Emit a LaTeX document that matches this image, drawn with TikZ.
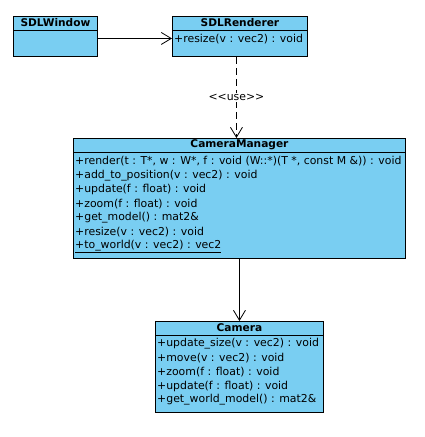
\documentclass[tikz,border=0pt]{standalone}
\usepackage{fontspec}
\setmainfont{DejaVu Sans}
\usetikzlibrary{arrows.meta}
\definecolor{umlblue}{RGB}{121,206,242}
\begin{document}
\begin{tikzpicture}[x=1pt,y=-1pt,
  classbox/.style={draw=black, fill=umlblue, line width=0.9pt, inner sep=0pt, anchor=north west},
  classtitle/.style={font=\fontsize{10.6}{12}\selectfont\bfseries, inner sep=0pt},
  member/.style={font=\fontsize{10.9}{12}\selectfont, inner sep=0pt, anchor=west},
  sep/.style={line width=0.9pt},
  assoc/.style={line width=0.8pt, -{Straight Barb[length=10pt,width=12pt]}},
  dep/.style={line width=0.8pt, dash pattern=on 7pt off 4pt, -{Straight Barb[length=10pt,width=12pt]}},
  lbl/.style={font=\fontsize{10.9}{12}\selectfont, fill=white, inner sep=1pt},
]
\useasboundingbox (0,0) rectangle (425,437);

% SDLWindow
\node[classbox, minimum width=84pt, minimum height=40pt] (win) at (13,16) {};
\draw[sep] ([yshift=-14pt]win.north west) -- ([yshift=-14pt]win.north east);
\node[classtitle] (wint) at ([yshift=-7pt]win.north) {SDLWindow};

% SDLRenderer
\node[classbox, minimum width=135pt, minimum height=40pt] (sdr) at (172,16) {};
\draw[sep] ([yshift=-14pt]sdr.north west) -- ([yshift=-14pt]sdr.north east);
\node[classtitle] (sdrt) at ([yshift=-7pt]sdr.north) {SDLRenderer};
\node[member] (sdr1) at ([xshift=2pt,yshift=-23pt]sdr.north west) {+resize(v : vec2) : void};

% CameraManager
\node[classbox, minimum width=332pt, minimum height=120pt] (cm) at (73,138) {};
\draw[sep] ([yshift=-14pt]cm.north west) -- ([yshift=-14pt]cm.north east);
\node[classtitle] (cmt) at ([yshift=-7pt]cm.north) {CameraManager};
\node[member] (cm1) at ([xshift=2pt,yshift=-23pt]cm.north west) {+render(t : T*, w : W*, f : void (W::*)(T *, const M \&)) : void};
\node[member] (cm2) at ([xshift=2pt,yshift=-37.2pt]cm.north west) {+add\_to\_position(v : vec2) : void};
\node[member] (cm3) at ([xshift=2pt,yshift=-51.4pt]cm.north west) {+update(f : float) : void};
\node[member] (cm4) at ([xshift=2pt,yshift=-65.6pt]cm.north west) {+zoom(f : float) : void};
\node[member] (cm5) at ([xshift=2pt,yshift=-79.8pt]cm.north west) {+get\_model() : mat2\&};
\node[member] (cm6) at ([xshift=2pt,yshift=-94pt]cm.north west) {+resize(v : vec2) : void};
\node[member] (cm7) at ([xshift=2pt,yshift=-108.2pt]cm.north west) {\underline{+to\_world(v : vec2) : vec2}};

% Camera
\node[classbox, minimum width=168pt, minimum height=91pt] (cam) at (155,321) {};
\draw[sep] ([yshift=-14pt]cam.north west) -- ([yshift=-14pt]cam.north east);
\node[classtitle] (camt) at ([yshift=-7pt]cam.north) {Camera};
\node[member] (cam1) at ([xshift=2pt,yshift=-23pt]cam.north west) {+update\_size(v : vec2) : void};
\node[member] (cam2) at ([xshift=2pt,yshift=-37pt]cam.north west) {+move(v : vec2) : void};
\node[member] (cam3) at ([xshift=2pt,yshift=-51pt]cam.north west) {+zoom(f : float) : void};
\node[member] (cam4) at ([xshift=2pt,yshift=-65pt]cam.north west) {+update(f : float) : void};
\node[member] (cam5) at ([xshift=2pt,yshift=-79pt]cam.north west) {+get\_world\_model() : mat2\&};

% connectors
\draw[assoc] ([yshift=-2pt]win.east) -- ([yshift=-2pt]sdr.west);
\draw[dep] ([xshift=-3.5pt]sdr.south) -- ([xshift=-3pt]cm.north) node[midway, lbl] (use) {<{}<use>{}>};
\draw[assoc] (cm.south) -- (cam.north);
\end{tikzpicture}
\end{document}
